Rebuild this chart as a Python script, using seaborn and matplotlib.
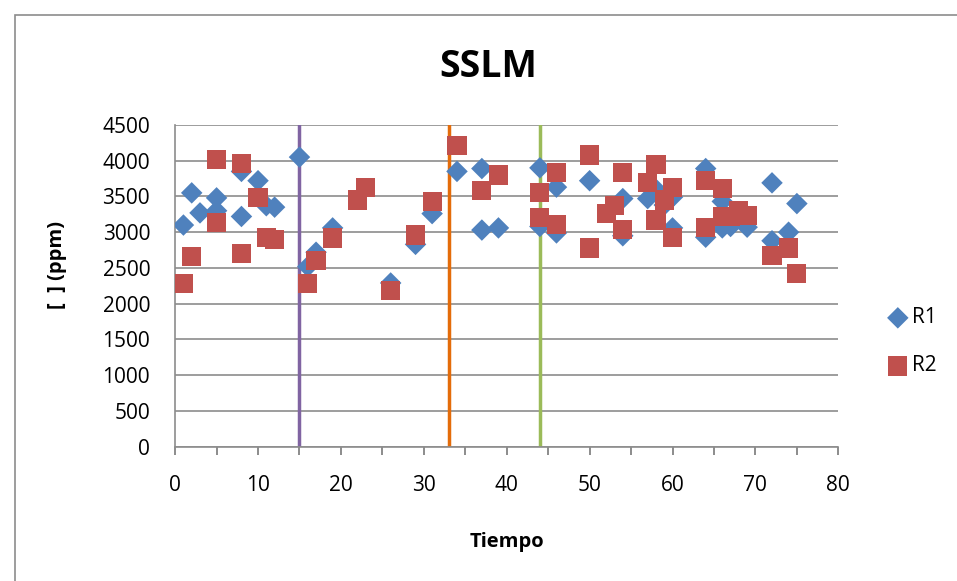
import numpy as np, pandas as pd
import matplotlib
matplotlib.use("Agg")
import matplotlib.pyplot as plt
import seaborn as sns
from matplotlib.ticker import MultipleLocator
from matplotlib.patches import Rectangle

# --- data ---
r1_t = [1, 2, 3, 5, 5, 8, 8, 10, 11, 12, 15, 16, 17, 19, 26, 29, 31, 34, 37, 37, 39,
        44, 44, 46, 46, 50, 54, 54, 57, 58, 59, 60, 60, 64, 64, 66, 66, 67, 69, 72, 72, 74, 75]
r1_v = [3100, 3550, 3270, 3480, 3300, 3850, 3220, 3720, 3370, 3350, 4050, 2520, 2720, 3060, 2290, 2830, 3260, 3850, 3890, 3030, 3060,
        3900, 3080, 3630, 2990, 3720, 3470, 2950, 3470, 3600, 3380, 3490, 3060, 3890, 2930, 3430, 3060, 3080, 3070, 3690, 2880, 3000, 3400]
r2_t = [1, 2, 5, 5, 8, 8, 10, 11, 12, 16, 17, 19, 22, 23, 26, 29, 31, 34, 37, 39,
        44, 44, 46, 46, 50, 50, 52, 53, 54, 54, 57, 58, 58, 59, 60, 60, 64, 64, 66, 66, 67, 68, 69, 72, 74, 75]
r2_v = [2280, 2660, 4020, 3130, 3960, 2700, 3490, 2930, 2900, 2280, 2600, 2920, 3450, 3630, 2180, 2960, 3430, 4210, 3580, 3800,
        3550, 3210, 3830, 3110, 4080, 2780, 3260, 3370, 3830, 3040, 3690, 3950, 3170, 3450, 3630, 2930, 3720, 3060, 3610, 3220, 3220, 3300, 3230, 2670, 2780, 2420]
vlines_t = [15, 33, 44]
vline_colors = ["#8064A2", "#E46C0A", "#9BBB59"]

df1 = pd.DataFrame({"Tiempo": r1_t, "ppm": r1_v})
df2 = pd.DataFrame({"Tiempo": r2_t, "ppm": r2_v})

sns.set_style("white")
plt.rcParams['font.family'] = ['Open Sans', 'DejaVu Sans']
plt.rcParams['text.color'] = 'black'
plt.rcParams['axes.labelcolor'] = 'black'
plt.rcParams['xtick.color'] = 'black'
plt.rcParams['ytick.color'] = 'black'

fig = plt.figure(figsize=(9.57, 5.81), dpi=100)
ax = fig.add_axes([0.183, 0.231, 0.693, 0.554])

# outer chart frame
fig.patches.append(Rectangle((0.0157, -0.2), 1.2, 1.174, transform=fig.transFigure,
                             fill=False, edgecolor="#8C8C8C", linewidth=1.2))

for t, c in zip(vlines_t, vline_colors):
    ax.axvline(t, color=c, linewidth=2.5, zorder=2)

sns.scatterplot(data=df1, x="Tiempo", y="ppm", ax=ax, marker="D", s=120,
                color="#4F81BD", edgecolor="none", zorder=3, label="R1")
sns.scatterplot(data=df2, x="Tiempo", y="ppm", ax=ax, marker="s", s=190,
                color="#C0504D", edgecolor="none", zorder=4, label="R2")

ax.set_xlim(0, 80)
ax.set_ylim(0, 4500)
ax.xaxis.set_major_locator(MultipleLocator(10))
ax.xaxis.set_minor_locator(MultipleLocator(5))
ax.yaxis.set_major_locator(MultipleLocator(500))
ax.grid(axis="y", color="#8C8C8C", linewidth=1.2, zorder=0)
ax.set_axisbelow(True)
for s in ["top", "right"]:
    ax.spines[s].set_visible(False)
for s in ["left", "bottom"]:
    ax.spines[s].set_color("#8C8C8C")
    ax.spines[s].set_linewidth(1.2)
ax.tick_params(axis="x", which="both", direction="out", length=6, width=1.4,
               color="#8C8C8C", labelcolor="black", labelsize=15, pad=14, bottom=True)
ax.tick_params(axis="y", length=0, labelsize=15, pad=18, labelcolor="black")

ax.set_xlabel("Tiempo", fontsize=14.5, fontweight="bold")
ax.xaxis.set_label_coords(0.5, -0.265)
ax.set_ylabel("[  ] (ppm)", fontsize=14.5, fontweight="bold")
ax.yaxis.set_label_coords(-0.163, 0.565)
fig.text(0.51, 0.885, "SSLM", ha="center", va="center", fontsize=27, fontweight="bold")

leg = ax.legend(loc="center left", bbox_to_anchor=(1.03, 0.326), frameon=False,
                fontsize=15, handletextpad=-0.3, labelspacing=1.3, markerscale=1.0)

fig.savefig("out.png", dpi=100)
